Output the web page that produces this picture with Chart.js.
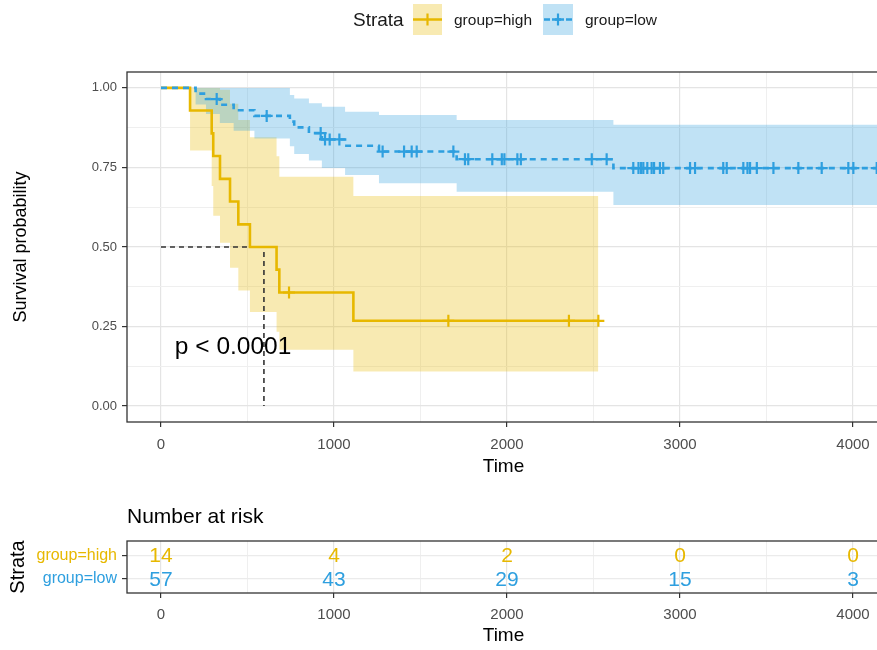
<!DOCTYPE html>
<html><head><meta charset="utf-8">
<script src="https://cdn.jsdelivr.net/npm/chart.js@4.4.0/dist/chart.umd.min.js"></script>
<style>
html,body{margin:0;padding:0;background:#fff;overflow:hidden;width:877px;height:650px;}
#wrap{position:relative;width:877px;height:650px;overflow:hidden;font-family:'Liberation Sans',Arial,sans-serif;}
canvas{position:absolute;left:0;}
#main{top:0;width:960px;height:490px;}
#risk{top:490px;width:960px;height:160px;}
.lg{position:absolute;white-space:nowrap;color:#1a1a1a;}
</style></head><body>
<div id="wrap">
<canvas id="main" width="960" height="490"></canvas>
<canvas id="risk" width="960" height="160"></canvas>
<div class="lg" style="left:353px;top:8px;font-size:19px;line-height:24px">Strata</div>
<svg style="position:absolute;left:413px;top:4px" width="29" height="31"><rect width="29" height="31" fill="rgba(231,184,0,0.3)"/><line x1="0" y1="15.5" x2="29" y2="15.5" stroke="#E7B800" stroke-width="2.5"/><line x1="14.5" y1="9.5" x2="14.5" y2="21.5" stroke="#E7B800" stroke-width="2.2"/></svg>
<div class="lg" style="left:454px;top:11px;font-size:15.5px;line-height:18px">group=high</div>
<svg style="position:absolute;left:543px;top:4px" width="30" height="31"><rect width="30" height="31" fill="rgba(46,159,223,0.3)"/><line x1="1" y1="15.5" x2="30" y2="15.5" stroke="#2E9FDF" stroke-width="2.5" stroke-dasharray="6,5"/><line x1="15" y1="9.5" x2="15" y2="21.5" stroke="#2E9FDF" stroke-width="2.2"/><line x1="9" y1="15.5" x2="21" y2="15.5" stroke="#2E9FDF" stroke-width="2.5"/></svg>
<div class="lg" style="left:585px;top:11px;font-size:15.5px;line-height:18px">group=low</div>
</div>
<script>
// ---------- data ----------
const highTimes = [0, 168, 293, 302, 341, 399, 447, 514, 668, 684, 1112, 2528];
const highSurv  = [1, 0.929, 0.857, 0.786, 0.714, 0.643, 0.571, 0.5, 0.429, 0.357, 0.268, 0.268];
const highLower = [1, 0.803, 0.692, 0.598, 0.513, 0.435, 0.363, 0.296, 0.234, 0.177, 0.109, 0.109];
const highUpper = [1, 1, 1, 1, 0.994, 0.95, 0.899, 0.845, 0.785, 0.721, 0.66, 0.66];
const highCensor = [740, 1661, 2358, 2528];

const lowTimes = [0, 200, 260, 340, 420, 540, 745, 770, 855, 930, 1064, 1260, 1709, 2615, 4300];
const lowSurv  = [1, 0.982, 0.965, 0.947, 0.93, 0.912, 0.894, 0.876, 0.858, 0.838, 0.818, 0.8, 0.776, 0.748, 0.748];
const lowLower = [1, 0.948, 0.918, 0.89, 0.865, 0.841, 0.817, 0.792, 0.772, 0.748, 0.726, 0.7, 0.674, 0.632, 0.632];
const lowUpper = [1, 1, 1, 1, 1, 1, 0.978, 0.967, 0.952, 0.941, 0.925, 0.915, 0.899, 0.884, 0.884];
const lowCensor = [322, 611, 923, 948, 975, 1031, 1281, 1405, 1449, 1478, 1690, 1757, 1776, 1915, 1970, 1985,
  2060, 2080, 2490, 2576, 2730, 2760, 2775, 2788, 2811, 2836, 2850, 2884, 2903, 3058, 3087, 3250, 3270,
  3366, 3390, 3405, 3444, 3540, 3684, 3819, 3973, 4002, 4137];

const medianTime = 595;
const pvalText = 'p < 0.0001';
const pvalPos = [80, 0.186];

const riskTimes = [0, 1000, 2000, 3000, 4000];
const riskHigh = [14, 4, 2, 0, 0];
const riskLow  = [57, 43, 29, 15, 3];
const strataNames = ['group=high', 'group=low'];

const xTicksMajor = [0, 1000, 2000, 3000, 4000];
const xGridTicks = [0, 500, 1000, 1500, 2000, 2500, 3000, 3500, 4000];
const yTicksMajor = [0, 0.25, 0.5, 0.75, 1];
const yGridTicks = [0, 0.125, 0.25, 0.375, 0.5, 0.625, 0.75, 0.875, 1];

// ---------- styles ----------
const YEL = '#E7B800', BLU = '#2E9FDF';
const YEL_A = 'rgba(231,184,0,0.3)', BLU_A = 'rgba(46,159,223,0.3)';
const FONT = "'Liberation Sans', Arial, sans-serif";
Chart.defaults.font.family = FONT;
const TXT = '#4D4D4D', DARK = '#333333';
const XMIN = -196.5, XMAX = 4156;

function pts(ts, vs) { return ts.map((t, i) => ({x: t, y: vs[i]})); }
function survAt(ts, vs, t) { let v = vs[0]; for (let i = 0; i < ts.length; i++) if (ts[i] <= t) v = vs[i]; return v; }
const isMajorX = v => xTicksMajor.some(m => Math.abs(m - v) < 1e-6);
const isMajorY = v => yTicksMajor.some(m => Math.abs(m - v) < 1e-6);

function xScale(height, titlePadBottom, tickPad) {
  return {
    type: 'linear', min: XMIN, max: XMAX,
    afterBuildTicks: s => { s.ticks = xGridTicks.map(v => ({value: v})); },
    ticks: {autoSkip: false, maxRotation: 0, color: TXT,
      font: {size: 15}, padding: tickPad, callback: v => isMajorX(v) ? String(v) : ''},
    grid: {color: c => isMajorX(c.tick.value) ? '#E4E4E4' : '#EFEFEF',
      lineWidth: c => isMajorX(c.tick.value) ? 1.2 : 1, tickLength: 5,
      tickColor: c => isMajorX(c.tick.value) ? DARK : 'rgba(0,0,0,0)', tickWidth: 1.2},
    border: {display: false},
    title: {display: true, text: 'Time', color: '#000', font: {size: 19}, padding: {top: 0, bottom: titlePadBottom}},
    afterFit: s => { s.height = height; }
  };
}

const panelBorder = {
  id: 'panelBorder',
  afterDatasetsDraw(chart) {
    const a = chart.chartArea, ctx = chart.ctx;
    ctx.save(); ctx.strokeStyle = DARK; ctx.lineWidth = 1.3;
    ctx.strokeRect(a.left, a.top, a.right - a.left, a.bottom - a.top);
    ctx.restore();
  }
};

const pvalPlugin = {
  id: 'pval',
  afterDatasetsDraw(chart) {
    const ctx = chart.ctx;
    const x = chart.scales.x.getPixelForValue(pvalPos[0]);
    const y = chart.scales.y.getPixelForValue(pvalPos[1]);
    ctx.save(); ctx.fillStyle = '#000'; ctx.font = '24.5px ' + FONT;
    ctx.textAlign = 'left'; ctx.textBaseline = 'middle';
    ctx.fillText(pvalText, x, y); ctx.restore();
  }
};

new Chart(document.getElementById('main'), {
  type: 'line',
  data: {datasets: [
    {label: 'high lower', data: pts(highTimes, highLower), stepped: true, borderColor: 'rgba(0,0,0,0)', borderWidth: 1, pointRadius: 0, fill: false, order: 10},
    {label: 'high upper', data: pts(highTimes, highUpper), stepped: true, borderColor: 'rgba(0,0,0,0)', borderWidth: 1, pointRadius: 0, fill: '-1', backgroundColor: YEL_A, order: 9},
    {label: 'low lower', data: pts(lowTimes, lowLower), stepped: true, borderColor: 'rgba(0,0,0,0)', borderWidth: 1, pointRadius: 0, fill: false, order: 8},
    {label: 'low upper', data: pts(lowTimes, lowUpper), stepped: true, borderColor: 'rgba(0,0,0,0)', borderWidth: 1, pointRadius: 0, fill: '-1', backgroundColor: BLU_A, order: 7},
    {label: 'median', data: [{x: 0, y: 0.5}, {x: medianTime, y: 0.5}, {x: medianTime, y: 0}], borderColor: DARK, borderWidth: 1.6, borderDash: [5, 4], pointRadius: 0, fill: false, order: 5},
    {label: 'group=high', data: pts(highTimes, highSurv), stepped: true, borderColor: YEL, borderWidth: 2.6, pointRadius: 0, fill: false, order: 3},
    {label: 'group=low', data: pts(lowTimes, lowSurv), stepped: true, borderColor: BLU, borderWidth: 2.6, borderDash: [6, 5], pointRadius: 0, fill: false, order: 2},
    {label: 'high censor', data: highCensor.map(t => ({x: t, y: survAt(highTimes, highSurv, t)})), showLine: false, pointStyle: 'cross', pointRadius: 6, pointBorderWidth: 2.2, borderColor: YEL, backgroundColor: YEL, order: 1},
    {label: 'low censor', data: lowCensor.map(t => ({x: t, y: survAt(lowTimes, lowSurv, t)})), showLine: false, pointStyle: 'cross', pointRadius: 6, pointBorderWidth: 2.2, borderColor: BLU, backgroundColor: BLU, order: 1}
  ]},
  options: {
    responsive: false, animation: false, devicePixelRatio: 1,
    layout: {padding: {top: 72, right: 80, left: 0, bottom: 0}},
    plugins: {legend: {display: false}, tooltip: {enabled: false}},
    scales: {
      x: xScale(68, 11.6, 9),
      y: {
        type: 'linear', min: -0.05, max: 1.05,
        afterBuildTicks: s => { s.ticks = yGridTicks.map(v => ({value: v})); },
        ticks: {autoSkip: false, color: TXT, font: {size: 13}, padding: 5,
          callback: v => isMajorY(v) ? v.toFixed(2) : ''},
        grid: {color: c => isMajorY(c.tick.value) ? '#E4E4E4' : '#EFEFEF',
          lineWidth: c => isMajorY(c.tick.value) ? 1.2 : 1, tickLength: 5,
          tickColor: c => isMajorY(c.tick.value) ? DARK : 'rgba(0,0,0,0)', tickWidth: 1.2},
        border: {display: false},
        title: {display: true, text: 'Survival probability', color: '#000', font: {size: 18}, padding: {top: 10, bottom: 0}},
        afterFit: s => { s.width = 127; }
      }
    }
  },
  plugins: [panelBorder, pvalPlugin]
});

const riskLabels = {
  id: 'riskLabels',
  afterDatasetsDraw(chart) {
    const ctx = chart.ctx;
    ctx.save(); ctx.font = '21px ' + FONT; ctx.textAlign = 'center'; ctx.textBaseline = 'middle';
    chart.data.datasets.forEach((ds, di) => {
      const meta = chart.getDatasetMeta(di);
      ctx.fillStyle = ds.textColor;
      meta.data.forEach((el, i) => ctx.fillText(String(ds.counts[i]), el.x, el.y + 1));
    });
    ctx.restore();
  }
};

new Chart(document.getElementById('risk'), {
  type: 'line',
  data: {datasets: [
    {label: strataNames[0], data: riskTimes.map(t => ({x: t, y: 1})), counts: riskHigh, textColor: YEL, showLine: false, pointRadius: 0},
    {label: strataNames[1], data: riskTimes.map(t => ({x: t, y: 2})), counts: riskLow, textColor: BLU, showLine: false, pointRadius: 0}
  ]},
  options: {
    responsive: false, animation: false, devicePixelRatio: 1,
    layout: {padding: {top: 0, right: 80, left: 0, bottom: 0}},
    plugins: {legend: {display: false}, tooltip: {enabled: false},
      title: {display: true, text: 'Number at risk', align: 'start', fullSize: false, color: '#000',
        font: {size: 21, weight: 'normal'}, padding: {top: 14.4, bottom: 11.4}}},
    scales: {
      x: xScale(57, 2.6, 8),
      y: {
        type: 'linear', min: 0.4, max: 2.6, reverse: true,
        afterBuildTicks: s => { s.ticks = [{value: 1}, {value: 2}]; },
        ticks: {autoSkip: false, font: {size: 16}, padding: 5,
          color: c => c.tick && c.tick.value === 1 ? YEL : BLU,
          callback: v => v === 1 ? strataNames[0] : (v === 2 ? strataNames[1] : '')},
        grid: {color: '#EBEBEB', lineWidth: 1.2, tickLength: 5, tickColor: DARK, tickWidth: 1.2},
        border: {display: false},
        title: {display: true, text: 'Strata', color: '#000', font: {size: 20}, padding: {top: 6, bottom: 0}},
        afterFit: s => { s.width = 127; }
      }
    }
  },
  plugins: [panelBorder, riskLabels]
});
</script>
</body></html>
